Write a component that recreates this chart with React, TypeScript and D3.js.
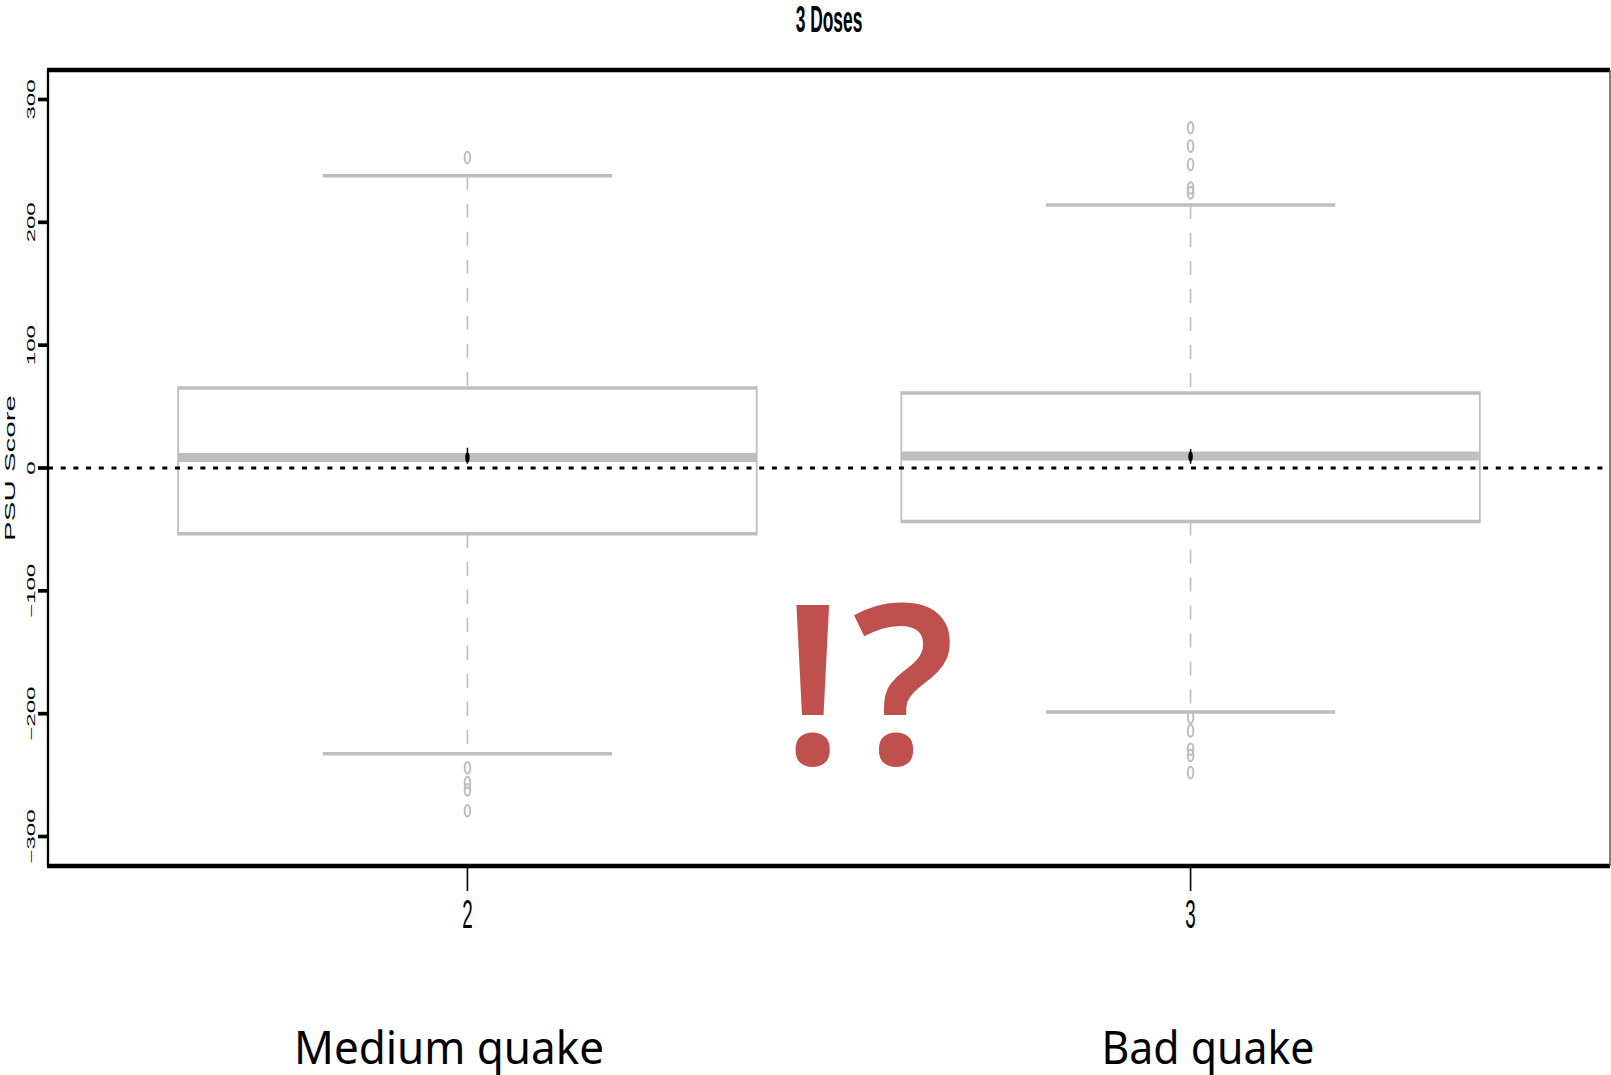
import React from 'react';
import * as d3 from 'd3';

// values
const categories = [2, 3];
const groupLabels = ['Medium quake', 'Bad quake'];
const q1 = [-53.5, -43.5];
const medians = [8.5, 9.8];
const q3 = [65.2, 61.1];
const whiskerLow = [-232.6, -198.6];
const whiskerHigh = [238, 214];
const outliers = [
  [252.7, -244, -256, -262, -279],
  [277, 262, 247, 228, 224, -203, -214, -229, -234, -248],
];
const means = [8.5, 9.4];
const meanLow = [3.5, 3.5];
const meanHigh = [16.5, 15.5];
const yTicks = [-300, -200, -100, 0, 100, 200, 300];

const W = 1611;
const H = 1075;
const plot = { left: 48, right: 1610, top: 70, bottom: 866 };
const GRAY = '#bebebe';
const SQ = 0.47; // the R output was squeezed horizontally

function App() {
  const x = d3.scaleLinear().domain([1.42, 3.58]).range([plot.left, plot.right]);
  const y = d3.scaleLinear().domain([-324, 324]).range([plot.bottom, plot.top]);
  const unit = x(1) - x(0);
  const boxHalf = 0.4 * unit;
  const capHalf = 0.2 * unit;
  const fmt = (v: number) => (v < 0 ? '\u2212' : '') + Math.abs(v);

  return (
    <svg width={W} height={H} style={{ position: 'absolute', left: 0, top: 0, background: '#fff' }}>
      {/* title */}
      <text
        transform={`translate(829,32) scale(${SQ},1)`}
        textAnchor="middle"
        fontFamily="Liberation Sans, Arial, sans-serif"
        fontWeight="bold"
        fontSize={37}
      >
        3 Doses
      </text>

      {/* boxes */}
      {categories.map((c, i) => {
        const cx = x(c);
        return (
          <g key={c}>
            <line x1={cx} x2={cx} y1={y(whiskerHigh[i])} y2={y(q3[i])} stroke={GRAY} strokeWidth={1.6} strokeDasharray="14,14" />
            <line x1={cx} x2={cx} y1={y(q1[i])} y2={y(whiskerLow[i])} stroke={GRAY} strokeWidth={1.6} strokeDasharray="14,14" />
            <line x1={cx - capHalf} x2={cx + capHalf} y1={y(whiskerHigh[i])} y2={y(whiskerHigh[i])} stroke={GRAY} strokeWidth={3.5} />
            <line x1={cx - capHalf} x2={cx + capHalf} y1={y(whiskerLow[i])} y2={y(whiskerLow[i])} stroke={GRAY} strokeWidth={3.5} />
            <rect x={cx - boxHalf} y={y(q3[i])} width={boxHalf * 2} height={y(q1[i]) - y(q3[i])} fill="#fff" />
            <line x1={cx - boxHalf} x2={cx + boxHalf} y1={y(q3[i])} y2={y(q3[i])} stroke={GRAY} strokeWidth={3.5} />
            <line x1={cx - boxHalf} x2={cx + boxHalf} y1={y(q1[i])} y2={y(q1[i])} stroke={GRAY} strokeWidth={3.5} />
            <line x1={cx - boxHalf} x2={cx - boxHalf} y1={y(q3[i]) - 1.7} y2={y(q1[i]) + 1.7} stroke={GRAY} strokeWidth={1.8} />
            <line x1={cx + boxHalf} x2={cx + boxHalf} y1={y(q3[i]) - 1.7} y2={y(q1[i]) + 1.7} stroke={GRAY} strokeWidth={1.8} />
            <line x1={cx - boxHalf} x2={cx + boxHalf} y1={y(medians[i])} y2={y(medians[i])} stroke={GRAY} strokeWidth={9} />
            {outliers[i].map((v, j) => (
              <ellipse key={j} cx={cx} cy={y(v)} rx={2.8} ry={5.8} fill="none" stroke={GRAY} strokeWidth={2} />
            ))}
          </g>
        );
      })}

      {/* zero reference line */}
      <line x1={plot.left} x2={plot.right} y1={y(0)} y2={y(0)} stroke="#000" strokeWidth={3} strokeDasharray="5,7.7" />

      {/* mean markers */}
      {categories.map((c, i) => (
        <g key={'m' + c}>
          <line x1={x(c)} x2={x(c)} y1={y(meanHigh[i])} y2={y(meanLow[i])} stroke="#000" strokeWidth={1.5} />
          <ellipse cx={x(c)} cy={y(means[i])} rx={2.2} ry={5} fill="#000" />
        </g>
      ))}

      {/* frame */}
      <line x1={plot.left - 1} x2={plot.right} y1={plot.top} y2={plot.top} stroke="#000" strokeWidth={4.3} />
      <line x1={plot.left - 1} x2={plot.right} y1={plot.bottom} y2={plot.bottom} stroke="#000" strokeWidth={4.3} />
      <line x1={plot.left} x2={plot.left} y1={plot.top} y2={plot.bottom} stroke="#000" strokeWidth={2.3} />
      <line x1={plot.right} x2={plot.right} y1={plot.top} y2={plot.bottom} stroke="#555" strokeWidth={1.5} />

      {/* y axis */}
      {yTicks.map(t => (
        <g key={t}>
          <line x1={plot.left - 10} x2={plot.left} y1={y(t)} y2={y(t)} stroke="#000" strokeWidth={3.7} />
          <text
            transform={`translate(35,${y(t)}) scale(${SQ},1) rotate(-90)`}
            textAnchor="middle"
            fontFamily="Liberation Sans, Arial, sans-serif"
            fontSize={24}
          >
            {fmt(t)}
          </text>
        </g>
      ))}
      <text
        transform={`translate(15,468) scale(${SQ},1) rotate(-90)`}
        textAnchor="middle"
        fontFamily="Liberation Sans, Arial, sans-serif"
        fontSize={29.5}
      >
        PSU Score
      </text>

      {/* x axis */}
      {categories.map(c => (
        <g key={'x' + c}>
          <line x1={x(c)} x2={x(c)} y1={plot.bottom} y2={plot.bottom + 25} stroke="#000" strokeWidth={1.6} />
          <text
            transform={`translate(${x(c)},928) scale(${SQ},1)`}
            textAnchor="middle"
            fontFamily="Liberation Sans, Arial, sans-serif"
            fontSize={40}
          >
            {c}
          </text>
        </g>
      ))}

      {/* group captions */}
      {categories.map((c, i) => (
        <text
          key={'g' + c}
          x={i === 0 ? 449 : 1208}
          y={1064}
          textAnchor="middle"
          fontFamily="Noto Sans, Open Sans, sans-serif"
          fontSize={45}
          textLength={i === 0 ? 310 : 213}
          lengthAdjust="spacingAndGlyphs"
        >
          {groupLabels[i]}
        </text>
      ))}

      {/* annotation */}
      <text x={782} y={764} fontFamily="Noto Sans, sans-serif" fontWeight={600} fontSize={222} fill="#c0504d">
        <tspan>!</tspan>
        <tspan dx={9}>?</tspan>
      </text>
    </svg>
  );
}

export default App;
